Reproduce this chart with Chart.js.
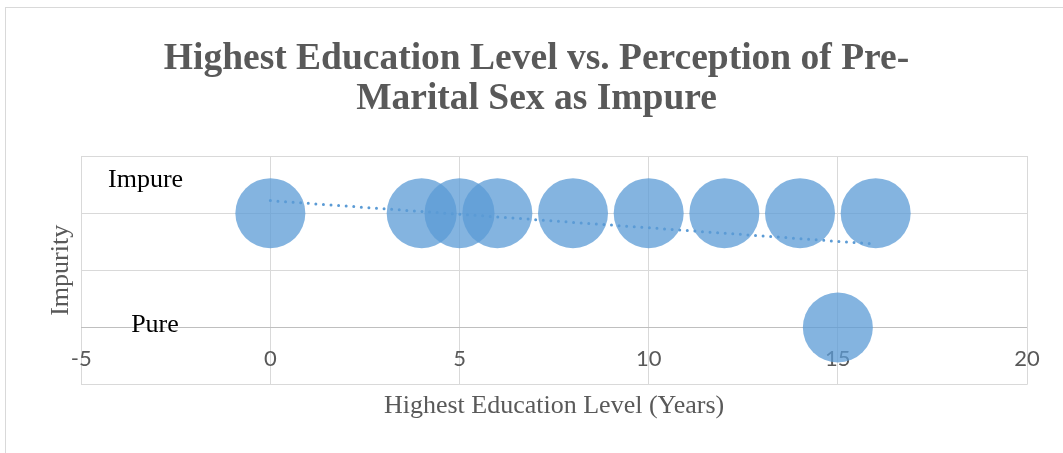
<!DOCTYPE html>
<html>
<head>
<meta charset="utf-8">
<script src="https://cdn.jsdelivr.net/npm/chart.js@4.4.1/dist/chart.umd.min.js"></script>
<style>
  html, body { margin: 0; padding: 0; background: #fff; }
  #wrap { width: 1063px; height: 453px; }
</style>
</head>
<body>
<div id="wrap"><canvas id="eduChart" width="1063" height="453"></canvas></div>
<script>
// years of schooling and whether pre-marital sex was seen as impure (1) or pure (0)
const educationYears = [0, 4, 5, 6, 8, 10, 12, 14, 15, 16];
const impurity = [1, 1, 1, 1, 1, 1, 1, 1, 0, 1];

// linear trendline endpoints
const trendX = [0, 16];
const trendY = [1.11, 0.73];

const xTicks = [-5, 0, 5, 10, 15, 20];
const stateLabels = ['Impure', 'Pure'];

const blue = '#5B9BD5';
const grey = '#595959';

// white background + outer frame of the chart object
const framePlugin = {
    id: 'frame',
    beforeDraw(chart) {
        const c = chart.ctx;
        c.save();
        c.fillStyle = '#fff';
        c.fillRect(0, 0, chart.width, chart.height);
        c.strokeStyle = '#D9D9D9';
        c.lineWidth = 1;
        c.strokeRect(5.5, 7.5, chart.width + 20, chart.height + 20);
        c.restore();
    }
};

// the "Impure" / "Pure" text boxes
const stateTextPlugin = {
    id: 'stateText',
    afterDraw(chart) {
        const c = chart.ctx;
        const xs = chart.scales.x, ys = chart.scales.y;
        c.save();
        c.font = '26px "Liberation Serif", "Times New Roman", serif';
        c.fillStyle = '#000';
        c.textBaseline = 'alphabetic';
        c.textAlign = 'left';
        c.fillText(stateLabels[0], xs.getPixelForValue(-4.29), ys.getPixelForValue(1) - 26);
        c.fillText(stateLabels[1], xs.getPixelForValue(-3.68), ys.getPixelForValue(0) + 4);
        c.restore();
    }
};

const ctx = document.getElementById('eduChart').getContext('2d');

new Chart(ctx, {
    type: 'bubble',
    data: {
        datasets: [{
            type: 'line',
            label: 'Linear trend',
            data: trendX.map((x, i) => ({ x: x, y: trendY[i] })),
            borderColor: blue,
            borderWidth: 3,
            borderDash: [0, 7.6],
            borderCapStyle: 'round',
            pointRadius: 0,
            fill: false,
            order: 0
        }, {
            label: 'Impurity',
            data: educationYears.map((x, i) => ({ x: x, y: impurity[i], r: 35 })),
            backgroundColor: 'rgba(91,155,213,0.75)',
            borderWidth: 0,
            order: 1
        }]
    },
    options: {
        responsive: false,
        animation: false,
        events: [],
        layout: { padding: { left: 46, right: 36, top: 0, bottom: 29 } },
        plugins: {
            legend: { display: false },
            tooltip: { enabled: false },
            title: {
                display: true,
                text: ['Highest Education Level vs. Perception of Pre-', 'Marital Sex as Impure'],
                color: grey,
                font: { family: '"Liberation Serif", "Times New Roman", serif', size: 37.5, weight: 'bold', lineHeight: 1.067 },
                padding: { top: 39, bottom: 37 }
            }
        },
        scales: {
            x: {
                type: 'linear',
                position: { y: 0 },
                min: -5,
                max: 20,
                afterBuildTicks: (axis) => { axis.ticks = xTicks.map(v => ({ value: v })); },
                grid: { color: '#D9D9D9', drawTicks: false },
                border: { display: false },
                ticks: {
                    color: grey,
                    padding: 18,
                    font: { family: 'Lato, "Open Sans", sans-serif', size: 22 }
                }
            },
            x2: {
                type: 'linear',
                position: 'bottom',
                min: -5,
                max: 20,
                grid: { display: false },
                border: { display: false },
                ticks: { display: false },
                title: {
                    display: true,
                    text: 'Highest Education Level (Years)',
                    color: grey,
                    font: { family: '"Liberation Serif", "Times New Roman", serif', size: 26, lineHeight: 1.05 },
                    padding: { top: 0, bottom: 4 }
                }
            },
            y: {
                type: 'linear',
                min: -0.5,
                max: 1.5,
                ticks: { display: false, stepSize: 0.5 },
                grid: {
                    drawTicks: false,
                    color: (c) => (c.tick && c.tick.value === 0 ? '#BFBFBF' : '#D9D9D9')
                },
                border: { display: false },
                title: {
                    display: true,
                    text: 'Impurity',
                    color: grey,
                    font: { family: '"Liberation Serif", "Times New Roman", serif', size: 26 },
                    padding: { top: 0, bottom: 4 }
                }
            }
        }
    },
    plugins: [framePlugin, stateTextPlugin]
});
</script>
</body>
</html>
